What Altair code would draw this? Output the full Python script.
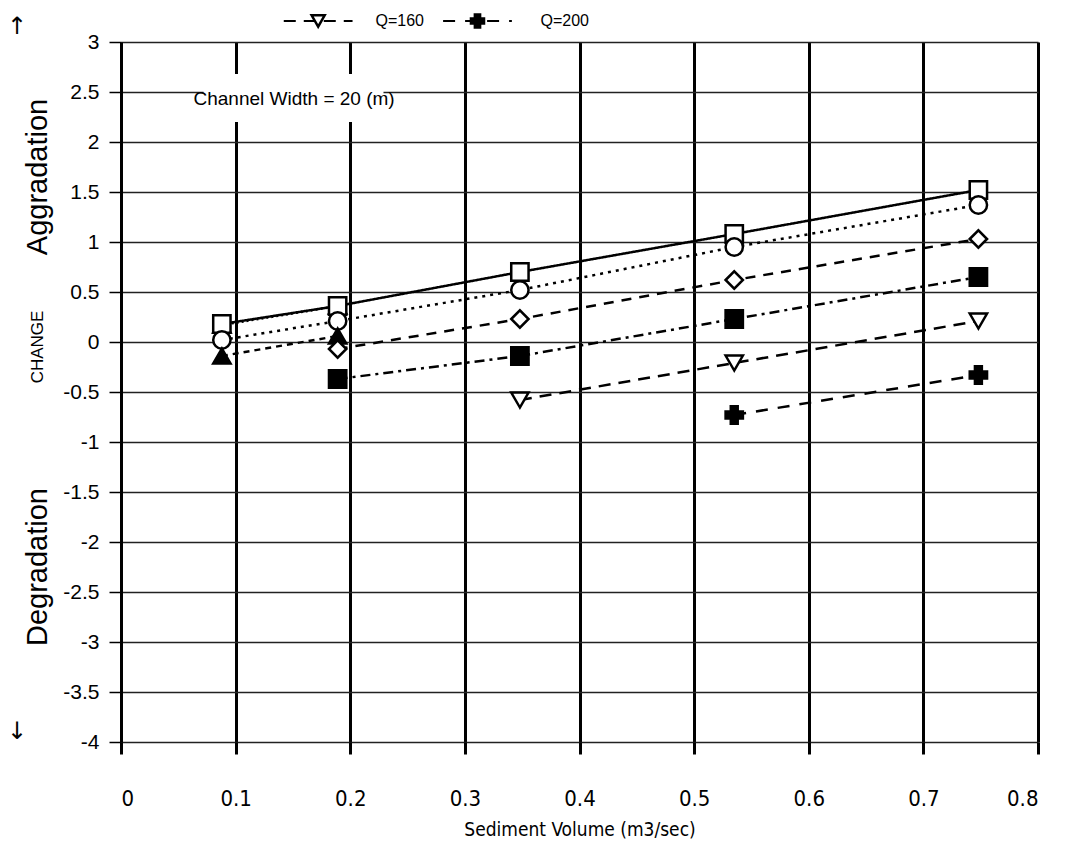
import altair as alt
import pandas as pd

# ---- data ----
sediment = [0.088, 0.189, 0.348, 0.535, 0.748]
series = ["Q=10", "Q=20", "Q=40", "Q=60", "Q=80", "Q=120", "Q=160", "Q=200"]
q10 = [0.17, 0.36, None, None, None]
q20 = [0.18, 0.36, 0.70, 1.08, 1.52]
q40 = [0.02, 0.21, 0.52, 0.95, 1.37]
q60 = [-0.14, 0.06, None, None, None]
q80 = [None, -0.07, 0.23, 0.62, 1.03]
q120 = [None, -0.37, -0.14, 0.23, 0.65]
q160 = [None, None, -0.58, -0.21, 0.21]
q200 = [None, None, None, -0.73, -0.33]

shapes = ["triangle-up", "square", "circle", "triangle-up", "diamond", "square", "triangle-down", "cross"]
fills = ["black", "white", "white", "black", "white", "black", "white", "black"]
dashes = [[2, 3], [1, 0], [3, 5], [6, 5], [10, 8], [10, 5, 3, 5], [12, 8], [12, 10]]
legend_dashes = [[5, 4], [5, 5]]

# visible part of the legend (top of the figure)
legend_entries = ["Q=160", "Q=200"]
legend_sym_x = [0.172, 0.311]
legend_half = 0.03
legend_lab_x = [0.222, 0.366]
legend_y = 3.21

side_text = ["Aggradation", "CHANGE", "Degradation"]
side_y = [1.65, -0.05, -2.25]
side_size = [29, 17, 29]
arrow_text = ["↑", "↓"]
arrow_y = [3.15, -3.9]

note_text = ["Channel Width = 20 (m)"]

# ---- build tables ----
values = [q10, q20, q40, q60, q80, q120, q160, q200]
rows = []
for name, vals in zip(series, values):
    for x, y in zip(sediment, vals):
        if y is not None:
            rows.append({"x": x, "y": y, "series": name, "line": name})
df = pd.DataFrame(rows)

leg_df = pd.DataFrame({"series": legend_entries, "line": legend_entries, "x": legend_sym_x,
                       "xa": [v - legend_half for v in legend_sym_x],
                       "xb": [v + legend_half for v in legend_sym_x],
                       "lx": legend_lab_x, "y": [legend_y] * len(legend_entries)})
side_df = pd.DataFrame({"t": side_text, "y": side_y, "s": side_size})
arrow_df = pd.DataFrame({"t": arrow_text, "y": arrow_y})
note_df = pd.DataFrame({"t": note_text, "x": [0.151], "y": [2.43],
                        "x1": [0.072], "x2": [0.229], "y1": [2.2], "y2": [2.68]})

xscale = alt.Scale(domain=[0, 0.8], nice=False, zero=False)
yscale = alt.Scale(domain=[-4, 3], nice=False, zero=False)
shape_scale = alt.Scale(domain=series, range=shapes)
fill_scale = alt.Scale(domain=series, range=fills)
dash_scale = alt.Scale(domain=series, range=dashes)

narrow = "DejaVu Sans Condensed, Liberation Sans Narrow, Liberation Sans, sans-serif"

xaxis = alt.Axis(values=[0, 0.1, 0.2, 0.3, 0.4, 0.5, 0.6, 0.7, 0.8], format="~g",
                 grid=True, gridColor="black", gridWidth=3, gridOpacity=1,
                 domain=False, ticks=True, tickSize=12, tickWidth=3, tickColor="black",
                 labelFont=narrow, labelFontSize=22, labelColor="black",
                 labelPadding=34, title="Sediment Volume (m3/sec)",
                 titleFont=narrow, titleFontSize=19, titleFontWeight="normal",
                 titleColor="black", titlePadding=11)
yaxis = alt.Axis(values=[-4, -3.5, -3, -2.5, -2, -1.5, -1, -0.5, 0, 0.5, 1, 1.5, 2, 2.5, 3], format="~g",
                 labelExpr="replace(datum.label, '\u2212', '-')",
                 grid=True, gridColor="#222", gridWidth=1.5, gridOpacity=1,
                 domain=True, domainColor="black", domainWidth=3,
                 ticks=True, tickSize=12, tickWidth=1.5, tickColor="black",
                 labelFont="Liberation Sans", labelFontSize=21, labelColor="black",
                 labelPadding=10, title=None)

base = alt.Chart(df)

lines = base.mark_line(color="black", strokeWidth=2.5).encode(
    x=alt.X("x:Q", scale=xscale, axis=xaxis),
    y=alt.Y("y:Q", scale=yscale, axis=yaxis),
    detail="line:N",
    strokeDash=alt.StrokeDash("line:N", scale=dash_scale, legend=None),
)

points = base.mark_point(size=300, strokeWidth=2.5, stroke="black", opacity=1, filled=False).encode(
    x="x:Q",
    y="y:Q",
    shape=alt.Shape("series:N", scale=shape_scale, legend=None),
    fill=alt.Fill("series:N", scale=fill_scale, legend=None),
)

leg_lines = alt.Chart(leg_df).mark_rule(color="black", strokeWidth=2).encode(
    x="xa:Q", x2="xb:Q", y="y:Q",
    strokeDash=alt.StrokeDash("line:N", scale=alt.Scale(domain=legend_entries, range=legend_dashes),
                              legend=None),
)
leg_points = alt.Chart(leg_df).mark_point(size=170, strokeWidth=2.5, stroke="black", opacity=1,
                                          filled=False).encode(
    x="x:Q", y="y:Q",
    shape=alt.Shape("series:N", scale=shape_scale, legend=None),
    fill=alt.Fill("series:N", scale=fill_scale, legend=None),
)
leg_text = alt.Chart(leg_df).mark_text(font="Liberation Sans", fontSize=16, color="black", align="left",
                                       baseline="middle").encode(
    x="lx:Q", y="y:Q", text="series:N")

note_box = alt.Chart(note_df).mark_rect(fill="white").encode(
    x="x1:Q", x2="x2:Q", y="y1:Q", y2="y2:Q")
note = alt.Chart(note_df).mark_text(font="Liberation Sans", fontSize=19, color="black").encode(
    x="x:Q", y="y:Q", text="t:N")

side = alt.Chart(side_df).mark_text(font="Liberation Sans", color="black", baseline="middle",
                                    align="center", angle=270).encode(
    x=alt.value(-83),
    y=alt.Y("y:Q"),
    text="t:N",
    size=alt.Size("s:Q", scale=None, legend=None),
)

arrows = alt.Chart(arrow_df).mark_text(font="DejaVu Sans", fontSize=24, color="black",
                                       baseline="middle", align="center").encode(
    x=alt.value(-104),
    y=alt.Y("y:Q"),
    text="t:N",
)

chart = alt.layer(lines, note_box, note, points, leg_lines, leg_points, leg_text, side, arrows).properties(
    width=917, height=700,
    autosize=alt.AutoSizeParams(type="none"),
    padding={"left": 113, "top": 34, "right": 20, "bottom": 104},
).configure_view(stroke="black", strokeWidth=1.5).configure(background="white")

chart.save("out.html", embed_options={"renderer": "svg", "actions": False})
